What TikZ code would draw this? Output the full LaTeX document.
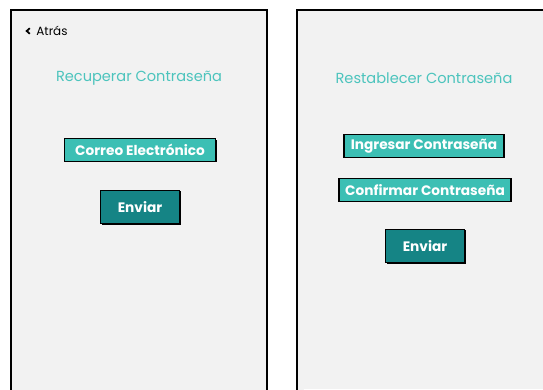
\documentclass[tikz,border=0pt]{standalone}
\usepackage{fontspec}
\setmainfont{Poppins}
\usetikzlibrary{shadows}

\definecolor{screenbg}{HTML}{F2F2F2}
\definecolor{lightteal}{HTML}{4CC4BD}
\definecolor{fieldteal}{HTML}{3CBFB4}
\definecolor{darkteal}{HTML}{158485}

\tikzset{
    screen/.style={draw=black, line width=1.1pt, fill=screenbg},
    heading/.style={text=lightteal, font=\fontsize{8.3}{9}\selectfont},
    field/.style={draw=black, line width=0.8pt, fill=fieldteal, text=white,
        font=\fontsize{7.8}{9}\selectfont\bfseries, inner sep=1.5pt, minimum height=13pt,
        drop shadow={shadow xshift=0.6pt, shadow yshift=-0.6pt, fill=black, opacity=1}},
    sendbtn/.style={field, fill=darkteal, font=\fontsize{7.8}{9}\selectfont\bfseries,
        minimum width=45pt, minimum height=19pt}
}

\begin{document}
\begin{tikzpicture}[x=0.02cm, y=-0.02cm]

        \useasboundingbox (0,0) rectangle (543,389);

        % The two phone screens (cut off at the bottom and at the right)
        \draw[screen] (11,400) -- (11,10) -- (267,10) -- (267,400);
        \draw[screen] (297,400) -- (297,10) -- (550,10);
        \fill[screenbg] (298,11) rectangle (543,389);

        % Recover password screen
        \node[anchor=west, font=\fontsize{6.8}{7}\selectfont, inner sep=0pt] (back) at (36,31) {Atrás};
        \draw[line width=1pt] ([xshift=-3.5pt, yshift=1.6pt]back.west) -- ++(-1.8pt,-1.6pt) -- ++(1.8pt,-1.6pt);
        \node[heading] (recTitle) at (139,78) {Recuperar Contraseña};
        \node[field, minimum width=86pt] (email) at (140,150) {Correo Electrónico};
        \node[sendbtn] (sendA) at (140,207) {Enviar};

        % Reset password screen
        \node[heading] (resTitle) at (424,78) {Restablecer Contraseña};
        \node[field, minimum width=91pt] (newPass) at (424,146) {Ingresar Contraseña};
        \node[field, minimum width=98pt] (confPass) at (425,190) {Confirmar Contraseña};
        \node[sendbtn] (sendB) at (425,246) {Enviar};

    \end{tikzpicture}
\end{document}
